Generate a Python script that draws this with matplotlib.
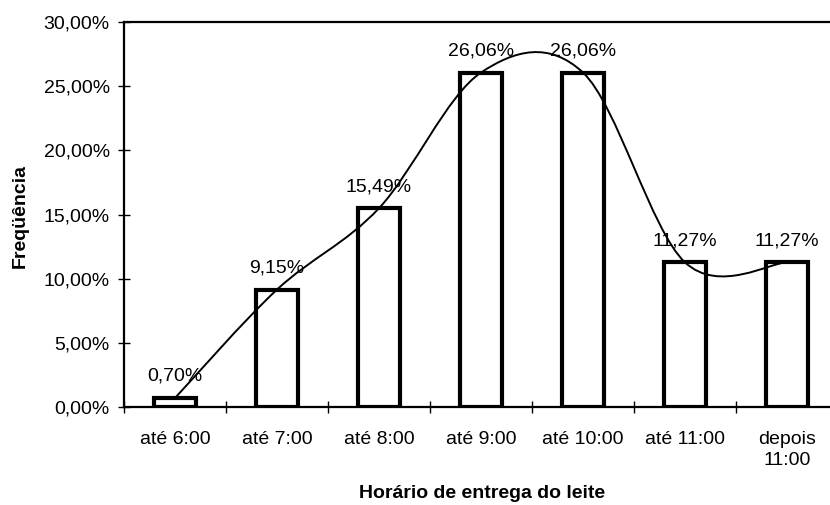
import matplotlib
matplotlib.use("Agg")
import matplotlib.pyplot as plt
from matplotlib.path import Path
from matplotlib.patches import PathPatch
from matplotlib.ticker import FixedLocator, FuncFormatter

plt.rcParams['font.family'] = ['Liberation Sans', 'DejaVu Sans']

categories = ["até 6:00", "até 7:00", "até 8:00", "até 9:00", "até 10:00", "até 11:00", "depois\n11:00"]
values = [0.70, 9.15, 15.49, 26.06, 26.06, 11.27, 11.27]
yticks = [0, 5, 10, 15, 20, 25, 30]

W, H = 830, 505
fig = plt.figure(figsize=(W / 100, H / 100), dpi=100)
left, right, bottom, top = 124, 838, 407, 22
ax = fig.add_axes([left / W, (H - bottom) / H, (right - left) / W, (bottom - top) / H])

x = list(range(len(categories)))
ax.bar(x, values, width=0.42, facecolor='white', edgecolor='black', linewidth=3.0, zorder=2)

# smoothed line (Excel-like Catmull-Rom Bezier) through bar tops
pts = list(zip(x, values))
verts = [pts[0]]
codes = [Path.MOVETO]
n = len(pts)
for i in range(n - 1):
    p0 = pts[i - 1] if i > 0 else pts[i]
    p1 = pts[i]
    p2 = pts[i + 1]
    p3 = pts[i + 2] if i + 2 < n else pts[i + 1]
    c1 = (p1[0] + (p2[0] - p0[0]) / 6, p1[1] + (p2[1] - p0[1]) / 6)
    c2 = (p2[0] - (p3[0] - p1[0]) / 6, p2[1] - (p3[1] - p1[1]) / 6)
    verts += [c1, c2, p2]
    codes += [Path.CURVE4] * 3
ax.add_patch(PathPatch(Path(verts, codes), facecolor='none', edgecolor='black', linewidth=1.4, zorder=3))

for xi, v in zip(x, values):
    ax.annotate(f"{v:.2f}%".replace('.', ','), (xi, v), xytext=(0, 15.5), textcoords='offset points',
                ha='center', va='center', fontsize=14, zorder=4)

ax.set_xlim(-0.5, 6.5)
ax.set_ylim(0, 30)
ax.set_yticks(yticks)
ax.yaxis.set_major_formatter(FuncFormatter(lambda v, p: f"{v:.2f}%".replace('.', ',')))
ax.tick_params(axis='y', direction='inout', length=8.5, width=1.0, labelsize=14, pad=6)

ax.set_xticks(x)
ax.set_xticklabels(categories, fontsize=14, linespacing=1.3)
ax.tick_params(axis='x', which='major', length=0, pad=17)
ax.xaxis.set_minor_locator(FixedLocator([i - 0.5 for i in range(len(categories) + 1)]))
ax.tick_params(axis='x', which='minor', direction='inout', length=9, width=1.0)

for s in ['left', 'bottom', 'top']:
    ax.spines[s].set_linewidth(1.6)
    ax.spines[s].set_color('black')
ax.spines['right'].set_visible(False)

fig.text(20 / W, 1 - 216 / H, "Freqüência", rotation=90, ha='center', va='center', fontsize=14, fontweight='bold')
fig.text(482 / W, 1 - 493 / H, "Horário de entrega do leite", ha='center', va='center', fontsize=14, fontweight='bold')

fig.savefig("out.png", dpi=100)
